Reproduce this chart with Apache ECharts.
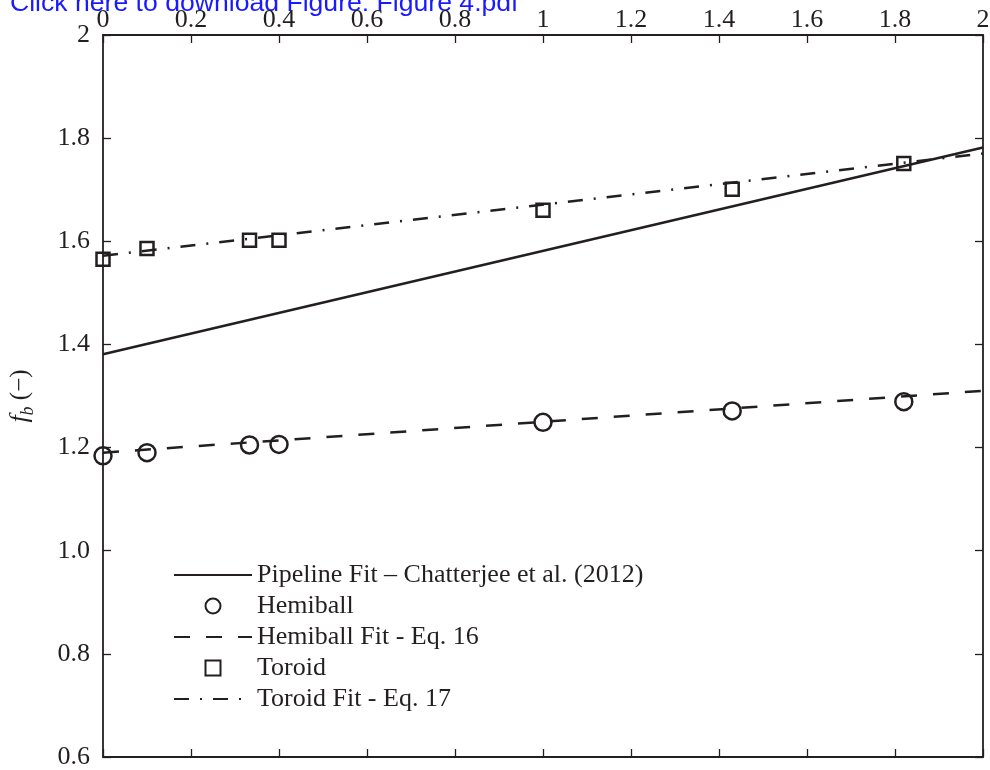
<!DOCTYPE html>
<html>
<head>
<meta charset="utf-8">
<script src="https://cdn.jsdelivr.net/npm/echarts@6/dist/echarts.min.js"></script>
<style>
  html, body { margin: 0; padding: 0; background: #ffffff; }
  #chart { width: 990px; height: 770px; }
</style>
</head>
<body>
<div id="chart"></div>
<script>
// Tick labels
const xTickLabels = ['0', '0.2', '0.4', '0.6', '0.8', '1', '1.2', '1.4', '1.6', '1.8', '2'];
const yTickLabels = ['0.6', '0.8', '1.0', '1.2', '1.4', '1.6', '1.8', '2'];

// Measured points
const hemiballX = [0, 0.1, 0.333, 0.4, 1.0, 1.43, 1.82];
const hemiballY = [1.184, 1.190, 1.205, 1.206, 1.249, 1.271, 1.289];
const toroidX = [0, 0.1, 0.333, 0.4, 1.0, 1.43, 1.82];
const toroidY = [1.565, 1.586, 1.602, 1.602, 1.660, 1.701, 1.751];

// Fit lines (end points over the plotted range)
const pipelineFitX = [0, 2];
const pipelineFitY = [1.381, 1.782];
const hemiballFitX = [0, 2];
const hemiballFitY = [1.190, 1.310];
const toroidFitX = [0, 2];
const toroidFitY = [1.572, 1.770];

const seriesNames = [
  'Pipeline Fit \u2013 Chatterjee et al. (2012)',
  'Hemiball',
  'Hemiball Fit - Eq. 16',
  'Toroid',
  'Toroid Fit - Eq. 17'
];

const ink = '#231f20';
const serif = 'Liberation Serif';
const squarePath = 'path://M0,0L10,0L10,10L0,10Z';
const zip = (xs, ys) => xs.map((x, i) => [x, ys[i]]);

const chart = echarts.init(document.getElementById('chart'), null, { renderer: 'canvas' });

const xAxisBase = {
  type: 'value', min: 0, max: 2, interval: 0.2,
  axisLine: { show: true, onZero: false, lineStyle: { color: ink, width: 1.8 } },
  axisTick: { show: true, inside: true, length: 8, lineStyle: { color: ink, width: 1.3 } },
  splitLine: { show: false }
};
const yAxisBase = {
  type: 'value', min: 0.6, max: 2, interval: 0.2,
  axisLine: { show: true, onZero: false, lineStyle: { color: ink, width: 1.8 } },
  axisTick: { show: true, inside: true, length: 8, lineStyle: { color: ink, width: 1.3 } },
  splitLine: { show: false }
};

// Line series carry no markers; keep their legend swatch to the line only
const hiddenMarker = { color: 'rgba(0,0,0,0)', borderColor: 'rgba(0,0,0,0)', opacity: 0 };
const hollowMarker = { color: 'rgba(255,255,255,0)', borderColor: ink, borderWidth: 2.5, opacity: 1 };

chart.setOption({
  animation: false,
  backgroundColor: '#ffffff',
  grid: { left: 103, right: 7, top: 35, bottom: 13, containLabel: false, outerBoundsMode: 'none' },
  graphic: [{
    type: 'text', left: 10, top: -10,
    style: {
      text: 'Click here to download Figure: Figure 4.pdf',
      font: '26.6px "Liberation Sans"', fill: '#1a1aff'
    }
  }],
  xAxis: [
    Object.assign({}, xAxisBase, {
      position: 'top',
      axisLabel: {
        show: true, margin: 2, color: ink, fontFamily: serif, fontSize: 26,
        formatter: v => xTickLabels[Math.round(v / 0.2)]
      }
    }),
    Object.assign({}, xAxisBase, { position: 'bottom', axisLabel: { show: false } })
  ],
  yAxis: [
    Object.assign({}, yAxisBase, {
      position: 'left',
      axisLabel: {
        show: true, margin: 13, color: ink, fontFamily: serif, fontSize: 26,
        formatter: v => yTickLabels[Math.round((v - 0.6) / 0.2)]
      },
      name: '{f|f}{b|b}{t| (\u2212)}',
      nameLocation: 'middle', nameRotate: 90, nameGap: 66,
      nameTextStyle: {
        color: ink, fontFamily: serif, fontSize: 25,
        rich: {
          f: { fontFamily: serif, fontStyle: 'italic', fontSize: 26, color: ink, lineHeight: 34, verticalAlign: 'middle' },
          b: { fontFamily: serif, fontStyle: 'italic', fontSize: 18, color: ink, lineHeight: 34, verticalAlign: 'bottom' },
          t: { fontFamily: serif, fontSize: 25, color: ink, lineHeight: 34, verticalAlign: 'middle' }
        }
      }
    }),
    Object.assign({}, yAxisBase, { position: 'right', axisLabel: { show: false } })
  ],
  legend: {
    orient: 'vertical', left: 173, top: 562, padding: 0,
    itemWidth: 78, itemHeight: 15, itemGap: 5,
    symbolKeepAspect: true,
    textStyle: { color: ink, fontFamily: serif, fontSize: 26 },
    data: [
      { name: seriesNames[0] },
      { name: seriesNames[1], icon: 'circle' },
      { name: seriesNames[2] },
      { name: seriesNames[3], icon: squarePath },
      { name: seriesNames[4] }
    ],
    selectedMode: false
  },
  series: [
    {
      name: seriesNames[0], type: 'line', data: zip(pipelineFitX, pipelineFitY),
      symbol: 'none', itemStyle: hiddenMarker,
      lineStyle: { color: ink, width: 2.5, type: 'solid' }, z: 2
    },
    {
      name: seriesNames[2], type: 'line', data: zip(hemiballFitX, hemiballFitY),
      symbol: 'none', itemStyle: hiddenMarker,
      lineStyle: { color: ink, width: 2.5, type: [16, 16] }, z: 2
    },
    {
      name: seriesNames[4], type: 'line', data: zip(toroidFitX, toroidFitY),
      symbol: 'none', itemStyle: hiddenMarker,
      lineStyle: { color: ink, width: 2.5, type: [15, 11, 2, 11] }, z: 2
    },
    {
      name: seriesNames[1], type: 'scatter', data: zip(hemiballX, hemiballY),
      symbol: 'circle', symbolSize: 17,
      itemStyle: hollowMarker, z: 3
    },
    {
      name: seriesNames[3], type: 'scatter', data: zip(toroidX, toroidY),
      symbol: squarePath, symbolSize: 13, symbolKeepAspect: true,
      itemStyle: hollowMarker, z: 3
    }
  ]
});
</script>
</body>
</html>
